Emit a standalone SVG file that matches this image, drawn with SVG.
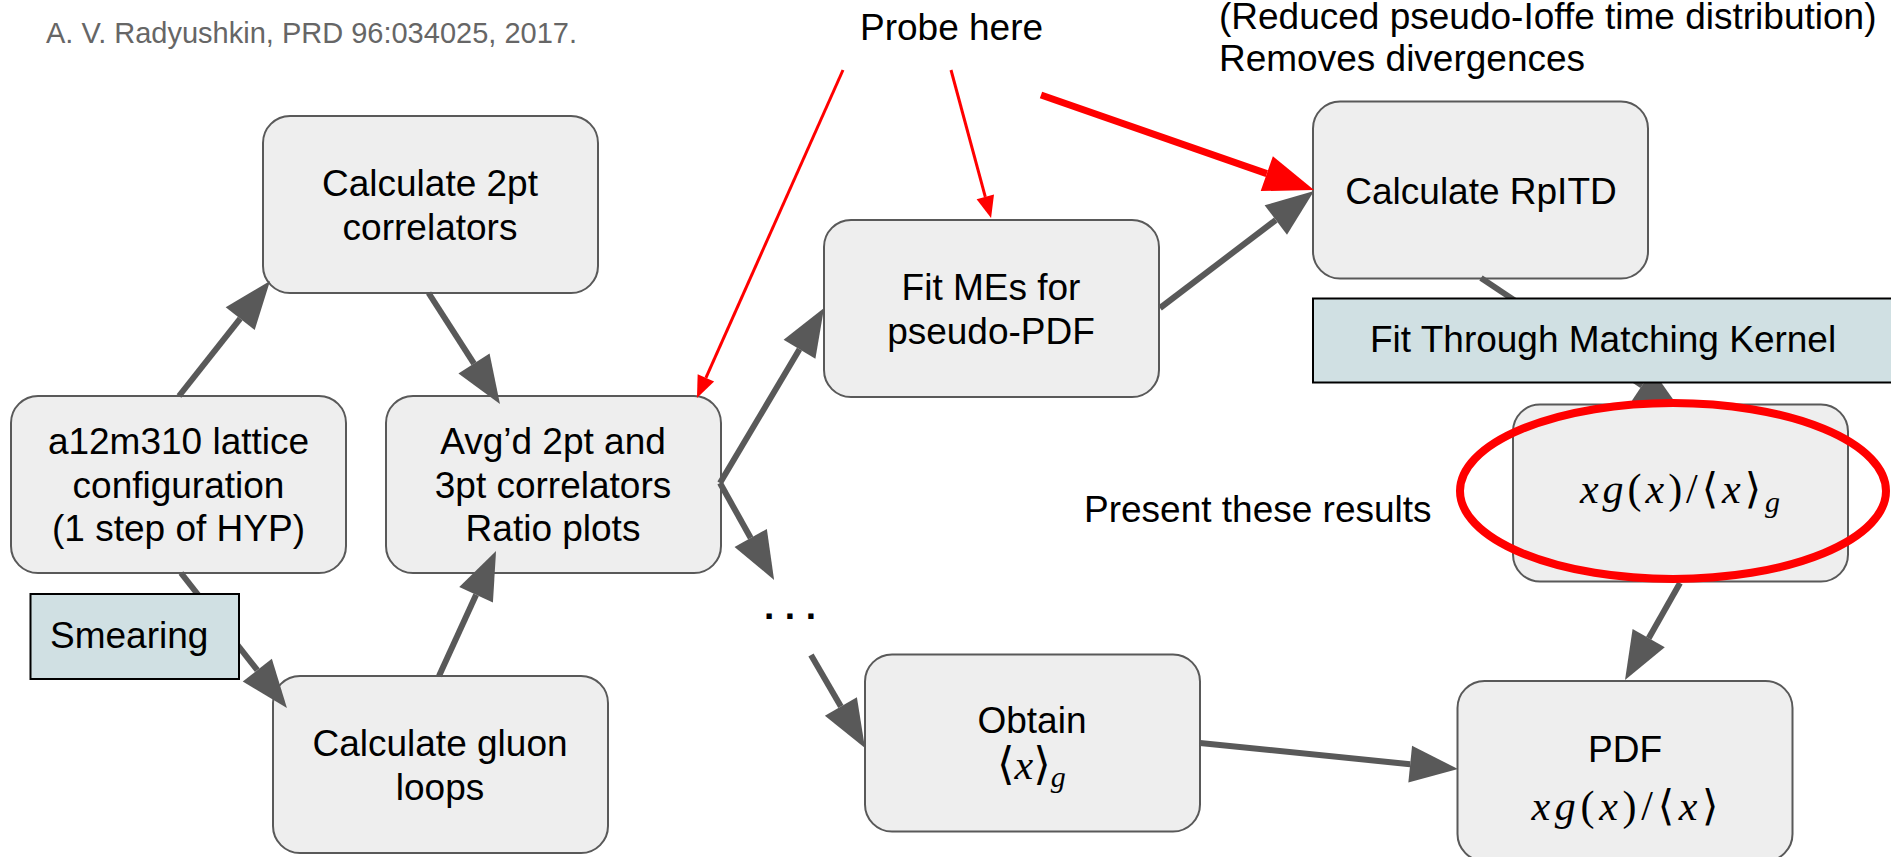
<svg xmlns="http://www.w3.org/2000/svg" width="1891" height="857" viewBox="0 0 1891 857">
<style>
  .node rect.box { fill:#eeeeee; stroke:#595959; stroke-width:2; }
  .tag rect { fill:#d0e0e3; stroke:#000000; stroke-width:2; }
  text { font-family:"Liberation Sans", Arial, sans-serif; font-size:37px; fill:#000; }
  .c { text-anchor:middle; }
  .cite { font-size:29px; fill:#666666; }
  .math { font-family:"Liberation Serif", "DejaVu Serif", serif; font-size:42px; }
  .it { font-style:italic; }
  .conn { fill:none; stroke:#595959; stroke-width:6; }
  .red { fill:none; stroke:#ff0000; }
</style>
<defs>
  <marker id="ah" markerUnits="userSpaceOnUse" markerWidth="52" markerHeight="40" viewBox="0 -20 52 40" refX="0" refY="0" orient="auto" overflow="visible">
    <path d="M0,-18.5 L48,0 L0,18.5 z" fill="#595959"/>
  </marker>
  <marker id="ahRedBig" markerUnits="userSpaceOnUse" markerWidth="52" markerHeight="40" viewBox="0 -20 52 40" refX="0" refY="0" orient="auto" overflow="visible">
    <path d="M0,-18.5 L50,0 L0,18.5 z" fill="#ff0000"/>
  </marker>
  <marker id="ahRedSmall" markerUnits="userSpaceOnUse" markerWidth="24" markerHeight="20" viewBox="0 -10 24 20" refX="0" refY="0" orient="auto" overflow="visible">
    <path d="M0,-9 L22,0 L0,9 z" fill="#ff0000"/>
  </marker>
</defs>

<rect x="0" y="0" width="1891" height="857" fill="#ffffff"/>

<text class="cite" x="46" y="43">A. V. Radyushkin, PRD 96:034025, 2017.</text>
<text x="860" y="40">Probe here</text>
<text x="1219" y="29">(Reduced pseudo-Ioffe time distribution)</text>
<text x="1219" y="71">Removes divergences</text>
<text x="1084" y="522">Present these results</text>
<text x="764" y="619" font-size="62" font-weight="bold" textLength="52" lengthAdjust="spacing">...</text>

<g id="n-2pt" class="node">
  <rect class="box" x="263" y="116" width="335" height="177" rx="27"/>
  <text class="c" x="430" y="196">Calculate 2pt</text>
  <text class="c" x="430" y="239.5">correlators</text>
</g>
<g id="n-lattice" class="node">
  <rect class="box" x="11" y="396" width="335" height="177" rx="27"/>
  <text class="c" x="178.5" y="454">a12m310 lattice</text>
  <text class="c" x="178.5" y="497.5">configuration</text>
  <text class="c" x="178.5" y="541">(1 step of HYP)</text>
</g>
<g id="n-avg" class="node">
  <rect class="box" x="386" y="396" width="335" height="177" rx="27"/>
  <text class="c" x="553" y="454">Avg’d 2pt and</text>
  <text class="c" x="553" y="497.5">3pt correlators</text>
  <text class="c" x="553" y="541">Ratio plots</text>
</g>
<g id="n-gluon" class="node">
  <rect class="box" x="273" y="676" width="335" height="177" rx="27"/>
  <text class="c" x="440" y="756">Calculate gluon</text>
  <text class="c" x="440" y="799.5">loops</text>
</g>
<g id="n-fitme" class="node">
  <rect class="box" x="824" y="220" width="335" height="177" rx="27"/>
  <text class="c" x="991" y="300">Fit MEs for</text>
  <text class="c" x="991" y="343.5">pseudo-PDF</text>
</g>
<g id="n-rpitd" class="node">
  <rect class="box" x="1313" y="101.5" width="335" height="177" rx="27"/>
  <text class="c" x="1481" y="204">Calculate RpITD</text>
</g>
<g id="n-obtain" class="node">
  <rect class="box" x="865" y="654.5" width="335" height="177" rx="27"/>
  <text class="c" x="1032" y="733">Obtain</text>
  <text class="math" x="997" y="779"><tspan font-size="45">⟨</tspan><tspan class="it">x</tspan><tspan font-size="45">⟩</tspan><tspan class="it" font-size="30" dy="8">g</tspan></text>
</g>
<g id="n-pdf" class="node">
  <rect class="box" x="1457.5" y="681" width="335" height="180" rx="27"/>
  <text class="c" x="1625" y="762">PDF</text>
  <text class="math c" x="1625" y="820" textLength="187" lengthAdjust="spacing"><tspan class="it">xg</tspan>(<tspan class="it">x</tspan>)/⟨<tspan class="it">x</tspan>⟩</text>
</g>

<g id="connectors">
  <path class="conn" marker-end="url(#ah)" d="M179,396 L240.2,318.6"/>
  <path class="conn" marker-end="url(#ah)" d="M428.6,293 L474,363.6"/>
  <path class="conn" marker-end="url(#ah)" d="M181,573 L257.3,670.2"/>
  <path class="conn" marker-end="url(#ah)" d="M439,676 L476.1,594.7"/>
  <path class="conn" marker-end="url(#ah)" d="M720,483 L799.5,349.3"/>
  <path class="conn" marker-end="url(#ah)" d="M720,483 L750.7,538"/>
  <path class="conn" marker-end="url(#ah)" d="M811,655 L840.9,706.5"/>
  <path class="conn" marker-end="url(#ah)" d="M1200,743 L1410.2,764.2"/>
  <path class="conn" marker-end="url(#ah)" d="M1160,308 L1275.8,220"/>
  <path class="conn" marker-end="url(#ah)" d="M1481,278 L1642.1,385.4"/>
  <path class="conn" marker-end="url(#ah)" d="M1680,583 L1648.7,638.2"/>
</g>

<g id="n-smearing" class="tag">
  <rect x="30.5" y="594" width="208.5" height="85"/>
  <text x="50" y="648">Smearing</text>
</g>
<g id="n-matching" class="tag">
  <rect x="1313" y="298.5" width="582" height="84"/>
  <text x="1370" y="352">Fit Through Matching Kernel</text>
</g>
<g id="n-result" class="node">
  <rect class="box" x="1513" y="404.5" width="335" height="177" rx="27"/>
  <text class="math c" x="1680" y="503" textLength="200" lengthAdjust="spacing"><tspan class="it">xg</tspan>(<tspan class="it">x</tspan>)/⟨<tspan class="it">x</tspan>⟩<tspan class="it" font-size="30" dy="9">g</tspan></text>
</g>

<g id="annotations">
  <ellipse class="red" cx="1673" cy="491" rx="213" ry="88" stroke-width="8"/>
  <path class="red" stroke-width="3" marker-end="url(#ahRedSmall)" d="M843,70 L705.9,377.9"/>
  <path class="red" stroke-width="3" marker-end="url(#ahRedSmall)" d="M951,70 L985.3,196.8"/>
  <path class="red" stroke-width="7" marker-end="url(#ahRedBig)" d="M1041,95 L1266.8,173.6"/>
</g>
</svg>
